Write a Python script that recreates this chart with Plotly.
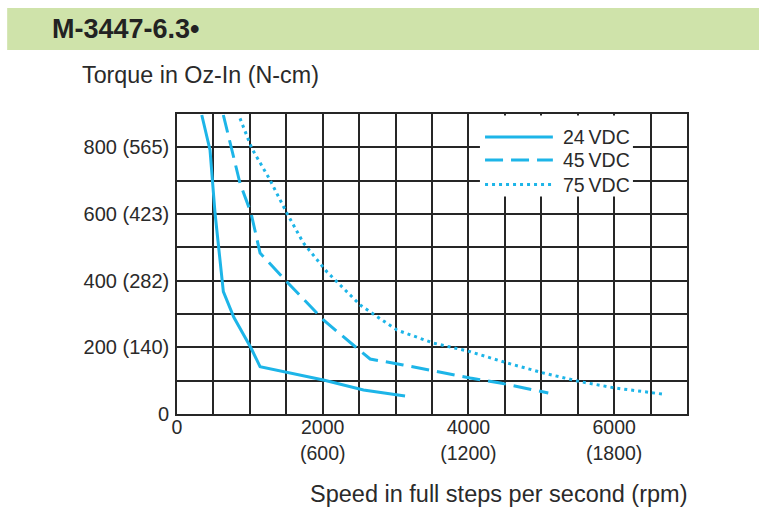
import plotly.graph_objects as go

# ---- data ----
speed_24 = [340, 453, 522, 636, 780, 1016, 1140, 2010, 2560, 3130]
torque_24 = [897, 792, 603, 367, 290, 198, 142, 102, 72, 54]

speed_45 = [636, 865, 1016, 1140, 1507, 2010, 2468, 2651, 3104, 4024, 4437, 5096]
torque_45 = [897, 692, 603, 483, 397, 282, 198, 165, 147, 108, 93, 63]

speed_75 = [865, 1026, 1277, 1507, 1735, 2056, 2514, 3017, 3516, 4024, 4530, 5030, 5535, 6040, 6657]
torque_75 = [887, 797, 702, 603, 513, 427, 327, 252, 213, 187, 153, 123, 97, 77, 60]

x_tickvals = [0, 2000, 4000, 6000]
x_ticktext = ["0", "2000<br>(600)", "4000<br>(1200)", "6000<br>(1800)"]
y_tickvals = [0, 200, 400, 600, 800]
y_ticktext = ["0", "200 (140)", "400 (282)", "600 (423)", "800 (565)"]

series_names = ["24\u2009VDC", "45\u2009VDC", "75\u2009VDC"]
title_text = "M-3447-6.3\u2022"
y_title = "Torque in Oz-In (N-cm)"
x_title = "Speed in full steps per second (rpm)"

CYAN = "#1DB5E8"
FONT = "Liberation Sans, Arial, sans-serif"
TXT = "#2a2a2a"

fig = go.Figure()
fig.add_trace(go.Scatter(x=speed_24, y=torque_24, mode="lines", name=series_names[0],
                         line=dict(color=CYAN, width=3), showlegend=False))
fig.add_trace(go.Scatter(x=speed_45, y=torque_45, mode="lines", name=series_names[1],
                         line=dict(color=CYAN, width=3, dash="18px,8px"), showlegend=False))
fig.add_trace(go.Scatter(x=speed_75, y=torque_75, mode="lines", name=series_names[2],
                         line=dict(color=CYAN, width=3, dash="3px,4px"), showlegend=False))

grid = dict(showgrid=True, gridcolor="#262626", gridwidth=1.6, zeroline=False,
            showline=True, linecolor="#262626", linewidth=1.6, mirror=True, ticks="")

fig.update_xaxes(range=[0, 7000], tickmode="array", tickvals=x_tickvals, ticktext=x_ticktext,
                 ticklabelstandoff=-5, tickfont=dict(family=FONT, size=19.5, color=TXT), **grid)
fig.update_yaxes(range=[0, 900], tickmode="array", tickvals=y_tickvals, ticktext=y_ticktext,
                 ticklabelstandoff=2, tickfont=dict(family=FONT, size=20, color=TXT), **grid)
# extra gridlines every 500 / 100
fig.update_xaxes(minor=dict(dtick=500, showgrid=True, gridcolor="#262626", gridwidth=1.6))
fig.update_yaxes(minor=dict(dtick=100, showgrid=True, gridcolor="#262626", gridwidth=1.6))

shapes = []
annotations = []
# header band
shapes.append(dict(type="rect", xref="paper", yref="paper", x0=-0.333, x1=1.15,
                   y0=1.213, y1=1.353, fillcolor="#CFE3AA", line=dict(width=0), layer="below"))
annotations.append(dict(text="<b>" + title_text + "</b>", xref="paper", yref="paper",
                        x=-0.249, y=1.283, xanchor="left", yanchor="middle", showarrow=False,
                        font=dict(family=FONT, size=27, color="#222")))
annotations.append(dict(text=y_title, xref="paper", yref="paper", x=-0.19, y=1.13,
                        xanchor="left", yanchor="middle", showarrow=False,
                        font=dict(family=FONT, size=23.3, color=TXT)))
annotations.append(dict(text=x_title, xref="paper", yref="paper", x=1.006, y=-0.267,
                        xanchor="right", yanchor="middle", showarrow=False,
                        font=dict(family=FONT, size=23.5, color=TXT)))

# legend (white box, samples and labels)
shapes.append(dict(type="rect", xref="paper", yref="paper", x0=0.594, x1=0.894,
                   y0=0.725, y1=0.995, fillcolor="white", line=dict(width=0), layer="above"))
leg_y = [0.923, 0.847, 0.765]
leg_dash = ["solid", "18px,8px", "3px,4px"]
for i in range(3):
    shapes.append(dict(type="line", xref="paper", yref="paper", x0=0.604, x1=0.737,
                       y0=leg_y[i], y1=leg_y[i], layer="above",
                       line=dict(color=CYAN, width=3, dash=leg_dash[i])))
    annotations.append(dict(text=series_names[i], xref="paper", yref="paper", x=0.752,
                            y=leg_y[i], xanchor="left", yanchor="middle", showarrow=False,
                            font=dict(family=FONT, size=19.5, color=TXT)))

fig.update_layout(width=759, height=507, margin=dict(l=177, r=72, t=114, b=93),
                  paper_bgcolor="white", plot_bgcolor="white",
                  shapes=shapes, annotations=annotations, showlegend=False)

fig.write_html("out.html")
